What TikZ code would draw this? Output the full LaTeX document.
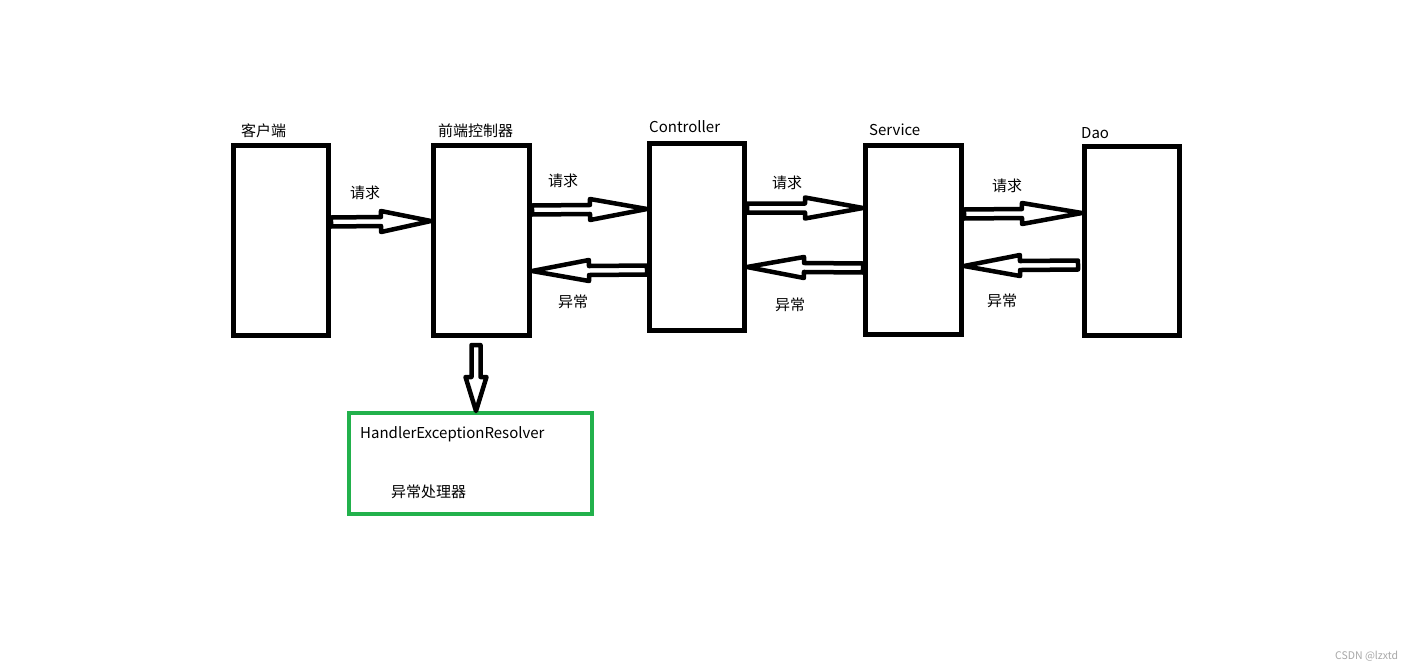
\documentclass[tikz,border=0pt]{standalone}
\usepackage{fontspec}
\setmainfont{Noto Sans CJK SC}
\usetikzlibrary{calc}
\definecolor{paintgreen}{HTML}{22B14C}
\definecolor{markgray}{HTML}{A8A8A8}

\tikzset{
  layer/.style={draw=black, line width=5pt, minimum width=95pt, minimum height=190pt, inner sep=0pt},
  hollow/.style={draw=black, line width=4.5pt, line join=round},
  tag/.style={anchor=west, inner sep=0pt, font=\fontsize{15}{18}\selectfont}
}

% hollow block arrow: [head length] {tail} {tip}
\newcommand{\hollowarrow}[3][55pt]{%
  \coordinate (hb) at ($(#3)!#1!(#2)$);
  \draw[hollow]
    ($(#2)!4.5pt!90:(#3)$) -- ($(hb)!4.5pt!90:(#3)$) -- ($(hb)!10.5pt!90:(#3)$) -- (#3)
    -- ($(hb)!10.5pt!-90:(#3)$) -- ($(hb)!4.5pt!-90:(#3)$) -- ($(#2)!4.5pt!-90:(#3)$) -- cycle;
}

\begin{document}
\begin{tikzpicture}[x=1pt, y=-1pt]

% Canvas
\useasboundingbox (0,0) rectangle (1414,672);
\fill[white] (0,0) rectangle (1414,672);

% --- Layers ---
\node[layer] (client) at (281,240.5) {};
\node[layer, minimum width=96pt] (front) at (481.5,240.5) {};
\node[layer, minimum height=187pt] (controller) at (697,237) {};
\node[layer, minimum width=96pt, minimum height=189pt] (service) at (913.5,240) {};
\node[layer, minimum height=189pt] (dao) at (1132,241) {};

% Exception resolver box
\node[draw=paintgreen, line width=4pt, minimum width=243pt, minimum height=101pt, inner sep=0pt]
  (resolver) at (470.5,463.5) {};

% --- Titles ---
\node[tag] (client title) at (241,131) {客户端};
\node[tag] (front title) at (438,131) {前端控制器};
\node[tag] (controller title) at (649,127) {Controller};
\node[tag] (service title) at (869,130) {Service};
\node[tag] (dao title) at (1081,133) {Dao};

% --- Request arrows ---
\coordinate (req1 tail) at (client.east |- 0,222);
\coordinate (req1 tip) at (front.west |- 0,221);
\coordinate (req2 tail) at (front.east |- 0,210);
\coordinate (req2 tip) at (controller.west |- 0,209);
\coordinate (req3 tail) at (controller.east |- 0,208);
\coordinate (req3 tip) at (service.west |- 0,208);
\coordinate (req4 tail) at (service.east |- 0,214);
\coordinate (req4 tip) at (dao.west |- 0,213);

\hollowarrow[50pt]{req1 tail}{req1 tip}
\hollowarrow[57pt]{req2 tail}{req2 tip}
\hollowarrow[58pt]{req3 tail}{req3 tip}
\hollowarrow[60pt]{req4 tail}{req4 tip}

\node[tag] (req1 label) at (350,193) {请求};
\node[tag] (req2 label) at (548,181) {请求};
\node[tag] (req3 label) at (772,183) {请求};
\node[tag] (req4 label) at (992,186) {请求};

% --- Exception arrows ---
\coordinate (exc1 tail) at (controller.west |- 0,270);
\coordinate (exc1 tip) at (front.east |- 0,271);
\coordinate (exc2 tail) at (service.west |- 0,268);
\coordinate (exc2 tip) at (controller.east |- 0,267);
\coordinate (exc3 tail) at (1078,265);
\coordinate (exc3 tip) at (service.east |- 0,266);

\hollowarrow[57pt]{exc1 tail}{exc1 tip}
\hollowarrow[57pt]{exc2 tail}{exc2 tip}
\hollowarrow[56pt]{exc3 tail}{exc3 tip}

\node[tag] (exc1 label) at (558,302) {异常};
\node[tag] (exc2 label) at (775,305) {异常};
\node[tag] (exc3 label) at (987,301) {异常};

% --- Down to the resolver ---
\coordinate (down tail) at (476,345);
\coordinate (down tip) at (resolver.north -| 476,0);
\hollowarrow[34pt]{down tail}{down tip}

\node[tag] (resolver name) at (360,434) {HandlerExceptionResolver};
\node[tag] (resolver label) at (391,492) {异常处理器};

% Watermark
\node[anchor=west, inner sep=0pt, font=\fontsize{10.5}{12}\selectfont, text=markgray]
  (mark) at (1335,656) {CSDN @lzxtd};

\end{tikzpicture}
\end{document}
